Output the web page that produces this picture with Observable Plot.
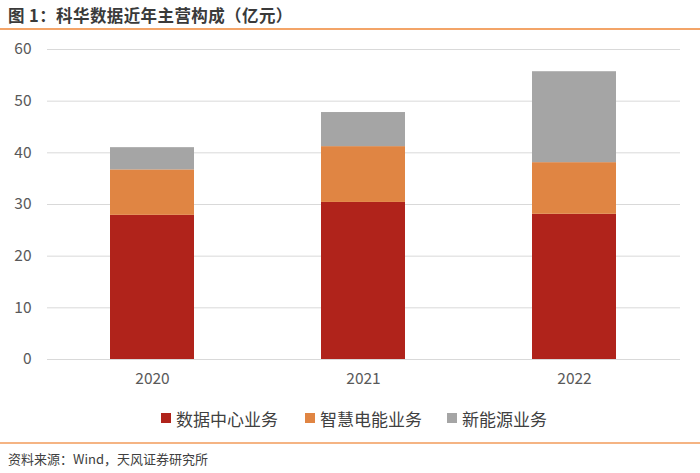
<!DOCTYPE html>
<html>
<head>
<meta charset="utf-8">
<script src="https://cdn.jsdelivr.net/npm/d3@7"></script>
<script src="https://cdn.jsdelivr.net/npm/@observablehq/plot@0.6"></script>
<style>
  body { margin: 0; background: #fff; font-family: "Noto Sans CJK SC", "Noto Sans", sans-serif; }
  #wrap { position: relative; width: 700px; height: 473px; overflow: hidden; }
  #title { position: absolute; left: 8px; top: 3px; font-size: 16.5px; font-weight: bold; color: #3a3a3a; letter-spacing: 0.4px; }
  #topline { position: absolute; left: 0; top: 28px; width: 700px; height: 2px; background: #f3a468; }
  #chart { position: absolute; left: 0; top: 30px; }
  #legend { position: absolute; top: 406px; left: 0; width: 700px; height: 24px; font-size: 17px; color: #404040; }
  .item { position: absolute; top: 0; display: flex; align-items: center; height: 24px; }
  .sw { width: 10px; height: 10px; margin-right: 5px; }
  #botline { position: absolute; left: 0; top: 442px; width: 700px; height: 2px; background: #f5b483; }
  #source { position: absolute; left: 8px; top: 449px; font-size: 13px; color: #404040; }
</style>
</head>
<body>
<div id="wrap">
  <div id="title">图 1：科华数据近年主营构成（亿元）</div>
  <div id="topline"></div>
  <div id="chart"></div>
  <div id="legend"></div>
  <div id="botline"></div>
  <div id="source">资料来源：Wind，天风证券研究所</div>
</div>
<script>
const years = ["2020", "2021", "2022"];
const seriesNames = ["数据中心业务", "智慧电能业务", "新能源业务"];
const dataCenter = [27.9, 30.4, 28.1];
const smartPower = [8.8, 10.8, 10.0];
const newEnergy = [4.3, 6.6, 17.6];
const colors = ["#b0231b", "#e08543", "#a5a5a5"];
const yTicks = [0, 10, 20, 30, 40, 50, 60];

const seriesValues = [dataCenter, smartPower, newEnergy];
const data = [];
seriesNames.forEach((s, i) => years.forEach((y, j) => data.push({year: y, series: s, value: seriesValues[i][j]})));

const chart = Plot.plot({
  width: 700,
  height: 370,
  marginLeft: 47,
  marginRight: 20,
  marginTop: 19,
  marginBottom: 41,
  style: {fontFamily: "'Noto Sans CJK SC', 'Noto Sans', sans-serif", fontSize: "15.5px", color: "#595959", background: "transparent"},
  x: {domain: years, paddingInner: 0.6, paddingOuter: 0.3, label: null, tickSize: 0, tickPadding: 13},
  y: {domain: [0, 60], ticks: yTicks, label: null, tickSize: 0, tickPadding: 16},
  color: {domain: seriesNames, range: colors},
  marks: [
    Plot.gridY(yTicks, {stroke: "#d9d9d9", strokeOpacity: 1, strokeWidth: 1}),
    Plot.barY(data, {x: "year", y: "value", fill: "series", order: seriesNames}),
    Plot.axisX({tickSize: 0, tickPadding: 13, fontSize: 15.5, fill: "#595959"}),
    Plot.axisY({ticks: yTicks, tickSize: 0, tickPadding: 16, fontSize: 15.5, fill: "#595959"})
  ]
});
document.getElementById("chart").appendChild(chart);

const legend = document.getElementById("legend");
const lefts = [161, 305, 447];
seriesNames.forEach((s, i) => {
  const it = document.createElement("div");
  it.className = "item";
  it.style.left = lefts[i] + "px";
  const sw = document.createElement("div");
  sw.className = "sw";
  sw.style.background = colors[i];
  const tx = document.createElement("span");
  tx.textContent = s;
  it.appendChild(sw);
  it.appendChild(tx);
  legend.appendChild(it);
});
</script>
</body>
</html>
